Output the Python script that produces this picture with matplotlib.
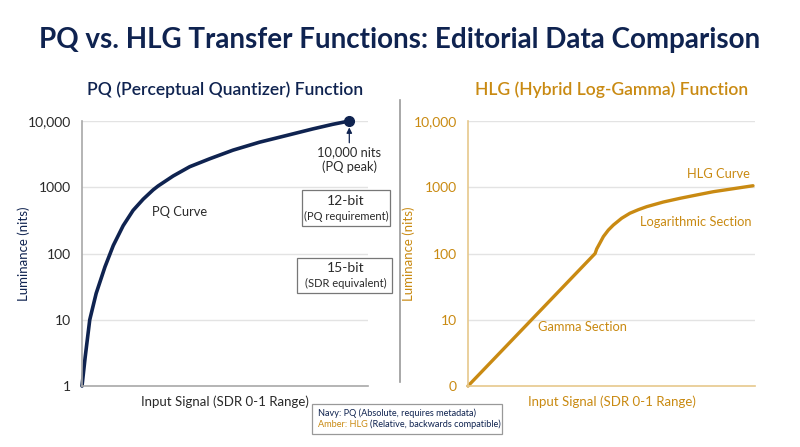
import numpy as np
import matplotlib.pyplot as plt
from matplotlib.patches import Rectangle

plt.rcParams['font.family'] = ['Lato', 'DejaVu Sans']

NAVY = '#0f2350'
AMBER = '#c98a12'
AMBER_LIGHT = '#e6c88c'
GRAY = '#a8a8a8'
GRID = '#e3e3e3'
TXT = '#2a2a2a'

# PQ curve (input signal 0..1 -> luminance nits)
pq_x = [0.0, 0.012, 0.029, 0.053, 0.086, 0.117, 0.154, 0.191, 0.229, 0.266,
        0.285, 0.341, 0.403, 0.478, 0.565, 0.664, 0.764, 0.863, 0.938, 1.0]
pq_y = [1, 2.75, 10, 25, 63, 132, 263, 447, 661, 912,
        1047, 1479, 2042, 2692, 3631, 4786, 6026, 7586, 8913, 10000]

# HLG curve: gamma section (straight on log axis) then logarithmic section
hlg_x = [0.0, 0.446, 0.4515, 0.4655, 0.475, 0.4925, 0.51, 0.539, 0.568, 0.598,
         0.627, 0.685, 0.744, 0.802, 0.861, 0.931, 1.0]
hlg_y = [1, 100, 117, 151, 180, 226, 269, 340, 405, 459,
         509, 598, 681, 764, 857, 951, 1054]

yticks = [1, 10, 100, 1000, 10000]
pq_ticklabels = ['1', '10', '100', '1000', '10,000']
hlg_ticklabels = ['0', '10', '100', '1000', '10,000']

fig = plt.figure(figsize=(8, 4.47), dpi=100)

fig.text(0.5, 1 - 40 / 447, 'PQ vs. HLG Transfer Functions: Editorial Data Comparison',
         ha='center', va='center', fontsize=20, fontweight='bold', color=NAVY)


def style_axis(ax, spine_col, tick_col, labels):
    ax.set_yscale('log')
    ax.set_ylim(1, 10000)
    ax.set_yticks(yticks)
    ax.set_yticklabels(labels)
    ax.minorticks_off()
    ax.set_xticks([])
    ax.tick_params(axis='y', length=0, pad=8, labelsize=10, labelcolor=tick_col)
    for s in ['top', 'right']:
        ax.spines[s].set_visible(False)
    for s in ['left', 'bottom']:
        ax.spines[s].set_color(spine_col)
        ax.spines[s].set_linewidth(1.2)
    for t in yticks[1:]:
        ax.axhline(t, color=GRID, lw=1, zorder=0)


# ---- PQ panel ----
ax1 = fig.add_axes([82 / 800, 1 - 386 / 447, 286 / 800, 265 / 447])
style_axis(ax1, GRAY, TXT, pq_ticklabels)
ax1.set_xlim(0, 1.07)
ax1.plot(pq_x, pq_y, color=NAVY, lw=2.6, solid_capstyle='round',
         solid_joinstyle='round', clip_on=False)
ax1.plot([pq_x[-1]], [pq_y[-1]], 'o', color=NAVY, ms=7, clip_on=False)
ax1.set_ylabel('Luminance (nits)', color=NAVY, fontsize=9.5)
ax1.yaxis.set_label_coords(-0.182, 0.5)
ax1.set_xlabel('Input Signal (SDR 0-1 Range)', color=TXT, fontsize=9.5, va='center')
ax1.xaxis.set_label_coords(0.5, -0.06)
ax1.set_title('PQ (Perceptual Quantizer) Function', color=NAVY, fontsize=12.6,
              fontweight='semibold', pad=19)
ax1.annotate('', xy=(1.0, 8000), xytext=(1.0, 4700),
             arrowprops=dict(arrowstyle='-|>', color=NAVY, lw=0.9, mutation_scale=8,
                             shrinkA=0, shrinkB=0))
ax1.text(1.0, 4200, '10,000 nits\n(PQ peak)', ha='center', va='top', fontsize=9.3,
         color=TXT, linespacing=1.25)
ax1.text(0.262, 420, 'PQ Curve', ha='left', va='center', fontsize=9.3, color=TXT)

for yc, big, small in [(208, '12-bit', '(PQ requirement)'),
                       (275.5, '15-bit', '(SDR equivalent)')]:
    fig.text(346 / 800, 1 - (yc - 7) / 447, big, ha='center', va='center',
             fontsize=10, color=TXT)
    fig.text(346 / 800, 1 - (yc + 8) / 447, small, ha='center', va='center',
             fontsize=8, color=TXT)
fig.patches.append(Rectangle((302 / 800, 1 - 226 / 447), 88 / 800, 36 / 447,
                             transform=fig.transFigure, fill=False, ec='#777777', lw=0.9))
fig.patches.append(Rectangle((297 / 800, 1 - 293 / 447), 95 / 800, 35 / 447,
                             transform=fig.transFigure, fill=False, ec='#777777', lw=0.9))

# separator
fig.add_artist(plt.Line2D([400 / 800, 400 / 800], [1 - 382 / 447, 1 - 100 / 447],
                          transform=fig.transFigure, color='#9a9a9a', lw=1.2))

# ---- HLG panel ----
ax2 = fig.add_axes([468 / 800, 1 - 386 / 447, 287 / 800, 265 / 447])
style_axis(ax2, AMBER_LIGHT, AMBER, hlg_ticklabels)
ax2.set_xlim(0, 1.007)
ax2.plot(hlg_x, hlg_y, color=AMBER, lw=2.4, solid_capstyle='round',
         solid_joinstyle='round', clip_on=False)
ax2.set_ylabel('Luminance (nits)', color=AMBER, fontsize=9.5)
ax2.yaxis.set_label_coords(-0.185, 0.5)
ax2.set_xlabel('Input Signal (SDR 0-1 Range)', color=AMBER, fontsize=9.5, va='center')
ax2.xaxis.set_label_coords(0.5, -0.06)
ax2.set_title('HLG (Hybrid Log-Gamma) Function', color=AMBER, fontsize=12.6,
              fontweight='semibold', pad=19)
ax2.text(0.99, 1585, 'HLG Curve', ha='right', va='center', fontsize=9.3, color=AMBER)
ax2.text(0.995, 300, 'Logarithmic Section', ha='right', va='center', fontsize=9.3, color=AMBER)
ax2.text(0.246, 7.8, 'Gamma Section', ha='left', va='center', fontsize=9.3, color=AMBER)

# ---- legend box ----
fig.patches.append(Rectangle((312 / 800, 1 - 434 / 447), 190 / 800, 30 / 447,
                             transform=fig.transFigure, fc='white', ec='#999999', lw=0.9))
fig.text(318 / 800, 1 - 413 / 447, 'Navy: PQ (Absolute, requires metadata)',
         ha='left', va='center', fontsize=6.6, color=NAVY)
t1 = fig.text(318 / 800, 1 - 424.5 / 447, 'Amber: HLG', ha='left', va='center',
              fontsize=6.6, color=AMBER)
fig.canvas.draw()
bb = t1.get_window_extent()
fig.text(bb.x1 / fig.bbox.width + 2 / 800, 1 - 424.5 / 447,
         '(Relative, backwards compatible)', ha='left', va='center',
         fontsize=6.6, color=NAVY)

fig.savefig('out.png', dpi=100)
